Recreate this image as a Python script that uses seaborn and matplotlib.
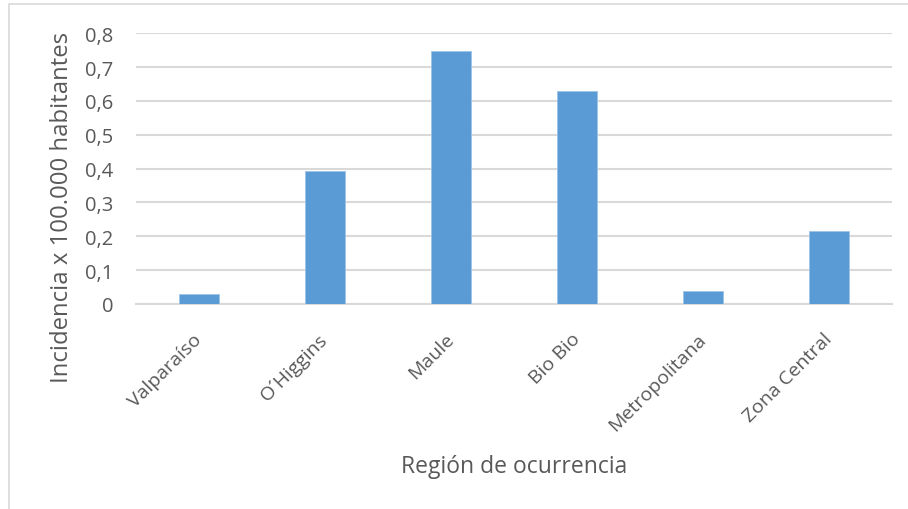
import matplotlib
matplotlib.use("Agg")
import matplotlib.pyplot as plt
import seaborn as sns
import pandas as pd
from matplotlib.patches import Rectangle

regiones = ["Valparaíso", "O´Higgins", "Maule", "Bio Bio", "Metropolitana", "Zona Central"]
incidencia = [0.031, 0.393, 0.748, 0.629, 0.038, 0.216]
y_ticks = [0, 0.1, 0.2, 0.3, 0.4, 0.5, 0.6, 0.7, 0.8]
y_tick_labels = ["0", "0,1", "0,2", "0,3", "0,4", "0,5", "0,6", "0,7", "0,8"]

df = pd.DataFrame({"region": regiones, "incidencia": incidencia})

sns.set_theme(style="white")
plt.rcParams["font.family"] = ["Open Sans", "DejaVu Sans"]
text_color = "#595959"
grid_color = "#d9d9d9"

W, H = 908, 510
fig = plt.figure(figsize=(W / 100, H / 100), dpi=100)
ax = fig.add_axes([136 / W, (H - 305) / H, (892 - 136) / W, (305 - 34.3) / H])

sns.barplot(data=df, x="region", y="incidencia", color="#5b9bd5",
            width=0.31, saturation=1, ax=ax, zorder=3,
            edgecolor="#9dc3e6", linewidth=0.6)

ax.set_ylim(0, 0.8)
ax.set_xlim(-0.5, len(regiones) - 0.5)
ax.set_yticks(y_ticks)
ax.set_yticklabels(y_tick_labels, fontsize=14.5, color=text_color)
ax.yaxis.grid(True, color=grid_color, linewidth=1.5, zorder=0)
ax.set_axisbelow(True)
for side in ["left", "right", "top"]:
    ax.spines[side].set_visible(False)
ax.spines["bottom"].set_color(grid_color)
ax.spines["bottom"].set_linewidth(1.5)
ax.tick_params(axis="both", length=0)
ax.tick_params(axis="y", pad=16.5)

ax.set_xticks(range(len(regiones)))
ax.set_xticklabels(regiones, rotation=45, ha="right", va="center",
                   rotation_mode="anchor", fontsize=14, color=text_color)
ax.tick_params(axis="x", pad=23)

ax.set_xlabel("Región de ocurrencia", fontsize=16.5, color=text_color)
ax.xaxis.set_label_coords(0.5, (305 - 467) / 270.7)
ax.set_ylabel("Incidencia x 100.000 habitantes", fontsize=17.2, color=text_color)
ax.yaxis.set_label_coords((62 - 136) / 756, (305 - 207) / 270.7)
ax.yaxis.label.set_va("center")
ax.xaxis.label.set_va("center")

# outer chart frame
fig.patches.append(Rectangle((9 / W, -0.1), 1.2, (H - 5) / H + 0.1,
                             transform=fig.transFigure, fill=False,
                             edgecolor=grid_color, linewidth=1.2))

fig.savefig("out.png", dpi=100)
